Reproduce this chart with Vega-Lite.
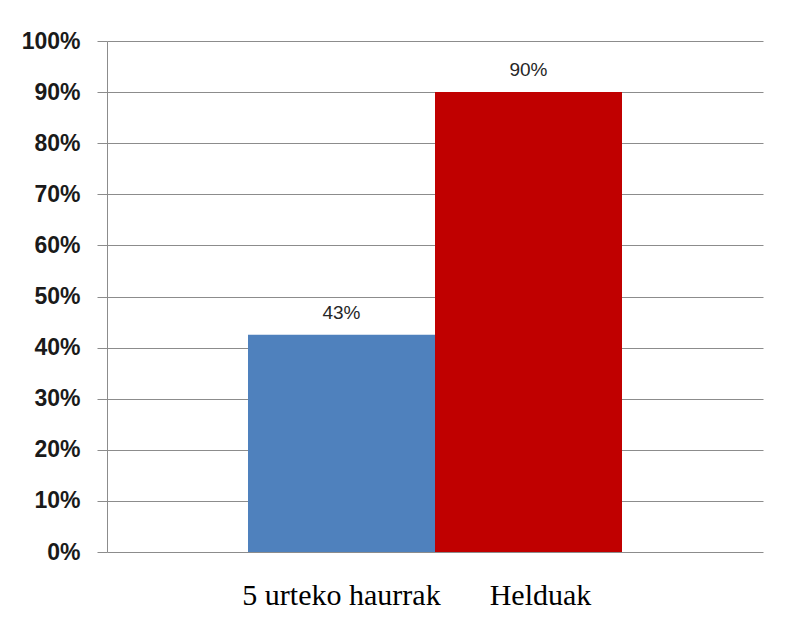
{
  "$schema": "https://vega.github.io/schema/vega-lite/v6.json",
  "width": 656,
  "height": 511,
  "autosize": {"type": "none"},
  "padding": {"left": 107, "top": 41, "right": 25, "bottom": 71},
  "background": "white",
  "config": {"view": {"stroke": null}},
  "data": {
    "values": [
      {"group": "5 urteko haurrak", "value": 0.425, "label": "43%"},
      {"group": "Helduak", "value": 0.90, "label": "90%"}
    ]
  },
  "encoding": {
    "x": {
      "field": "group",
      "type": "nominal",
      "sort": null,
      "title": null,
      "scale": {"paddingInner": 0, "paddingOuter": 0.754},
      "axis": {
        "domain": false,
        "ticks": false,
        "tickSize": 0,
        "grid": false,
        "labelAngle": 0,
        "labelLimit": 0,
        "labelFont": "Liberation Serif",
        "labelFontSize": 30,
        "labelColor": "#000000",
        "labelPadding": 28,
        "labelOffset": {"condition": {"test": "datum.value === 'Helduak'", "value": 12}, "value": 0}
      }
    },
    "y": {
      "field": "value",
      "type": "quantitative",
      "title": null,
      "scale": {"domain": [0, 1], "nice": false},
      "axis": {
        "values": [0, 0.1, 0.2, 0.3, 0.4, 0.5, 0.6, 0.7, 0.8, 0.9, 1.0],
        "format": ".0%",
        "grid": true,
        "gridColor": "#8c8c8c",
        "gridWidth": 1,
        "domainColor": "#8c8c8c",
        "tickColor": "#8c8c8c",
        "tickSize": 10,
        "labelPadding": 17,
        "labelFont": "Liberation Sans",
        "labelFontWeight": "bold",
        "labelFontSize": 23,
        "labelColor": "#1a1a1a"
      }
    }
  },
  "layer": [
    {
      "mark": {"type": "bar"},
      "encoding": {
        "color": {
          "field": "group",
          "type": "nominal",
          "scale": {"domain": ["5 urteko haurrak", "Helduak"], "range": ["#4F81BD", "#C00000"]},
          "legend": null
        }
      }
    },
    {
      "mark": {"type": "text", "baseline": "bottom", "dy": -12, "font": "Liberation Sans", "fontSize": 19, "color": "#262626"},
      "encoding": {"text": {"field": "label"}}
    }
  ]
}
